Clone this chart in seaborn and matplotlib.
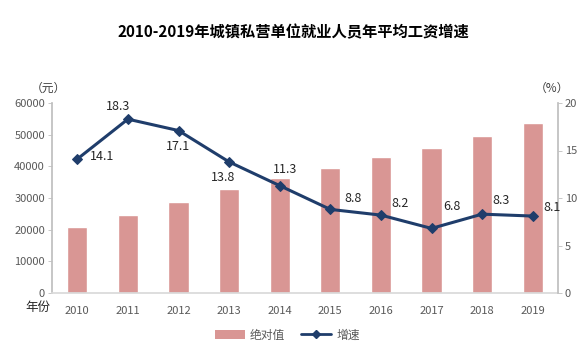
import matplotlib
matplotlib.use("Agg")
import matplotlib.pyplot as plt
import seaborn as sns
import pandas as pd
import numpy as np
from matplotlib.patches import Patch
from matplotlib.lines import Line2D

years = ["2010", "2011", "2012", "2013", "2014", "2015", "2016", "2017", "2018", "2019"]
wages = [20759, 24556, 28752, 32706, 36390, 39589, 42833, 45761, 49575, 53604]
growth = [14.1, 18.3, 17.1, 13.8, 11.3, 8.8, 8.2, 6.8, 8.3, 8.1]
left_ticks = [0, 10000, 20000, 30000, 40000, 50000, 60000]
right_ticks = [0, 5, 10, 15, 20]

sns.set_theme(style="white")
plt.rcParams["font.family"] = ["Noto Sans CJK SC", "DejaVu Sans"]

bar_color = "#D99694"
line_color = "#1F3D6B"
tick_color = "#595959"

df = pd.DataFrame({"year": years, "wage": wages, "growth": growth, "pos": np.arange(len(years))})

fig = plt.figure(figsize=(5.86, 3.57), dpi=100)
ax = fig.add_axes([52/586, 1-293/357, (558-52)/586, (293-103)/357])
sns.barplot(data=df, x="year", y="wage", color=bar_color, width=0.4, ax=ax, saturation=1)
ax.set_xlim(-0.5, len(years)-0.5)
ax.set_ylim(0, 60000)
ax.set_yticks(left_ticks)
ax.set_xlabel("")
ax.set_ylabel("")

ax2 = ax.twinx()
sns.lineplot(data=df, x="pos", y="growth", color=line_color, marker="D", markersize=5,
             linewidth=2.2, markeredgecolor=line_color, ax=ax2)
ax2.set_ylim(0, 20)
ax2.set_yticks(right_ticks)
ax2.set_xlim(-0.5, len(years)-0.5)
ax2.set_xlabel("")
ax2.set_ylabel("")

for a in (ax, ax2):
    for s in a.spines.values():
        s.set_visible(False)
    a.tick_params(colors=tick_color, labelsize=8, length=3, width=0.6, color="#BFBFBF", pad=2)
ax.spines["left"].set_visible(True)
ax.spines["left"].set_color("#BFBFBF")
ax.spines["bottom"].set_visible(True)
ax.spines["bottom"].set_color("#D9D9D9")
ax2.spines["right"].set_visible(True)
ax2.spines["right"].set_color("#BFBFBF")
ax.tick_params(axis="x", length=0, pad=9)

offsets = [(18, 1.5), (-7, 9), (0, -11.5), (-4, -11), (4, 11.5),
           (16.5, 8), (14, 8), (14.5, 16), (14, 9.5), (14, 6)]
for i, (g, off) in enumerate(zip(growth, offsets)):
    ax2.annotate(f"{g}", (i, g), xytext=off, textcoords="offset points",
                 ha="center", va="center", fontsize=9, color="#262626")

fig.text(0.5, 1-32/357, "2010-2019年城镇私营单位就业人员年平均工资增速", ha="center", va="center",
         fontsize=11, fontweight="bold", color="#000000")
fig.text(48/586, 1-88/357, "（元）", ha="center", va="center", fontsize=8.5, color="#404040")
fig.text(552/586, 1-88/357, "（%）", ha="center", va="center", fontsize=8.5, color="#404040")
fig.text(38/586, 1-307/357, "年份", ha="center", va="center", fontsize=9, color="#262626")

handles = [Patch(facecolor=bar_color, edgecolor="none"),
           Line2D([0], [0], color=line_color, marker="D", markersize=4, linewidth=2)]
fig.legend(handles, ["绝对值", "增速"], loc="center", bbox_to_anchor=(0.49, 1-335/357), ncol=2,
           frameon=False, fontsize=8.5, labelcolor=tick_color, handlelength=2.6, columnspacing=1.3,
           handletextpad=0.4)

fig.savefig("out.png", dpi=100)
